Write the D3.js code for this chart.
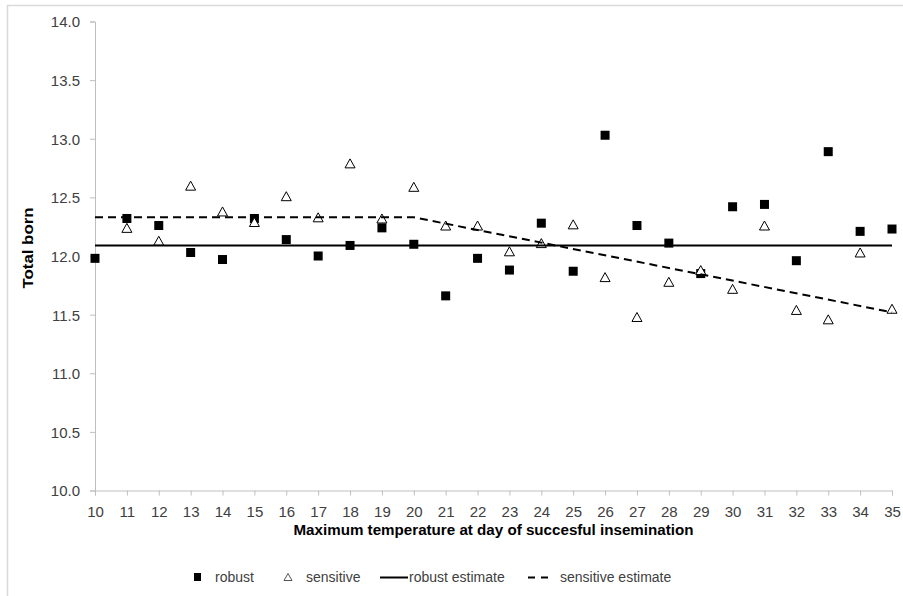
<!DOCTYPE html>
<html>
<head>
<meta charset="utf-8">
<script src="https://cdn.jsdelivr.net/npm/d3@7"></script>
<style>
  body { margin: 0; background: #fff; }
  svg { display: block; font-family: "Liberation Sans", Arial, sans-serif; }
</style>
</head>
<body>
<div id="chart"></div>
<script>
// Datos
const temps = [10, 11, 12, 13, 14, 15, 16, 17, 18, 19, 20, 21, 22, 23, 24, 25, 26, 27, 28, 29, 30, 31, 32, 33, 34, 35];
const robust = [11.98, 12.32, 12.26, 12.03, 11.97, 12.32, 12.14, 12.00, 12.09, 12.24, 12.10, 11.66, 11.98, 11.88, 12.28, 11.87, 13.03, 12.26, 12.11, 11.85, 12.42, 12.44, 11.96, 12.89, 12.21, 12.23];
const sensitive = [null, 12.24, 12.13, 12.60, 12.38, 12.29, 12.51, 12.33, 12.79, 12.32, 12.59, 12.26, 12.26, 12.04, 12.11, 12.27, 11.82, 11.48, 11.78, 11.88, 11.72, 12.26, 11.54, 11.46, 12.03, 11.55];
const robustEstX = [10, 35];
const robustEstY = [12.09, 12.09];
const sensEstX = [10, 20, 35];
const sensEstY = [12.33, 12.33, 11.52];
const yTicks = [10.0, 10.5, 11.0, 11.5, 12.0, 12.5, 13.0, 13.5, 14.0];
const legendLabels = ['robust', 'sensitive', 'robust estimate', 'sensitive estimate'];

const W = 903, H = 596;
const AXIS_GREY = '#bfbfbf', TEXT_GREY = '#404040';

let svg = d3.select('#chart').append('svg')
    .attr('width', W)
    .attr('height', H);

svg.append('rect').attr('width', W).attr('height', H).attr('fill', '#fff');

// marco exterior
svg.append('rect')
    .attr('x', 7.5).attr('y', 5.5)
    .attr('width', W + 10).attr('height', H + 10)
    .attr('fill', 'none')
    .attr('stroke', '#d9d9d9')
    .attr('stroke-width', 1.5);

let x = d3.scaleLinear().domain([10, 35]).range([95, 892]);
let y = d3.scaleLinear().domain([10, 14]).range([490.5, 21.5]);

// eje Y
let yAxis = svg.append('g')
    .attr('transform', 'translate(' + x(10) + ',0)')
    .call(d3.axisLeft(y).tickValues(yTicks).tickSize(5).tickPadding(10).tickFormat(d3.format('.1f')));
yAxis.select('.domain').attr('stroke', AXIS_GREY);
yAxis.selectAll('.tick line').attr('stroke', AXIS_GREY);
yAxis.selectAll('.tick text').attr('fill', TEXT_GREY).style('font-size', '15px')
    .attr('dy', '0.36em');

// eje X
let xAxis = svg.append('g')
    .attr('transform', 'translate(0,' + y(10) + ')')
    .call(d3.axisBottom(x).tickValues(temps).tickSize(5).tickPadding(11).tickFormat(d3.format('d')));
xAxis.select('.domain').attr('stroke', AXIS_GREY);
xAxis.selectAll('.tick line').attr('stroke', AXIS_GREY);
xAxis.selectAll('.tick text').attr('fill', TEXT_GREY).style('font-size', '15px');

// títulos de ejes
svg.append('text')
    .attr('x', (x(10) + x(35)) / 2)
    .attr('y', 535)
    .attr('text-anchor', 'middle')
    .attr('font-weight', 'bold')
    .attr('fill', '#000')
    .style('font-size', '14px')
    .attr('textLength', 400)
    .attr('lengthAdjust', 'spacingAndGlyphs')
    .text('Maximum temperature at day of succesful insemination');

svg.append('text')
    .attr('transform', 'translate(33,248) rotate(-90)')
    .attr('text-anchor', 'middle')
    .attr('font-weight', 'bold')
    .attr('fill', '#000')
    .style('font-size', '15px')
    .attr('textLength', 81)
    .attr('lengthAdjust', 'spacingAndGlyphs')
    .text('Total born');

// series
const triPath = function(w, h) {
    return 'M0,' + (-h / 2) + 'L' + (w / 2) + ',' + (h / 2) + 'L' + (-w / 2) + ',' + (h / 2) + 'Z';
};

let robustData = temps.map(function(t, i) { return { t: t, v: robust[i] }; });
let sensData = temps.map(function(t, i) { return { t: t, v: sensitive[i] }; })
    .filter(function(d) { return d.v !== null; });

svg.append('g').selectAll('rect')
    .data(robustData)
    .enter()
    .append('rect')
    .attr('x', function(d) { return x(d.t) - 4.5; })
    .attr('y', function(d) { return y(d.v) - 4.5; })
    .attr('width', 9)
    .attr('height', 9)
    .attr('fill', '#000');

svg.append('g').selectAll('path')
    .data(sensData)
    .enter()
    .append('path')
    .attr('transform', function(d) { return 'translate(' + x(d.t) + ',' + y(d.v) + ')'; })
    .attr('d', triPath(10, 9))
    .attr('fill', '#fff')
    .attr('stroke', '#000')
    .attr('stroke-width', 1);

let line = d3.line()
    .x(function(d) { return x(d[0]); })
    .y(function(d) { return y(d[1]); });

svg.append('path')
    .datum(d3.zip(robustEstX, robustEstY))
    .attr('d', line)
    .attr('fill', 'none')
    .attr('stroke', '#000')
    .attr('stroke-width', 2);

svg.append('path')
    .datum(d3.zip(sensEstX, sensEstY))
    .attr('d', line)
    .attr('fill', 'none')
    .attr('stroke', '#000')
    .attr('stroke-width', 2)
    .attr('stroke-dasharray', '8,5');

// leyenda
let legend = svg.append('g').style('font-size', '14px').attr('fill', TEXT_GREY);
const LY = 577;

legend.append('rect').attr('x', 194).attr('y', LY - 4).attr('width', 7).attr('height', 8).attr('fill', '#000');
legend.append('text').attr('x', 215).attr('y', LY + 5).text(legendLabels[0]);

legend.append('path').attr('transform', 'translate(288,' + LY + ')').attr('d', triPath(8, 7))
    .attr('fill', '#fff').attr('stroke', '#555').attr('stroke-width', 1);
legend.append('text').attr('x', 306).attr('y', LY + 5).text(legendLabels[1]);

legend.append('line').attr('x1', 380).attr('x2', 408).attr('y1', LY + 0.5).attr('y2', LY + 0.5)
    .attr('stroke', '#000').attr('stroke-width', 2);
legend.append('text').attr('x', 409).attr('y', LY + 5).text(legendLabels[2]);

legend.append('line').attr('x1', 528).attr('x2', 550).attr('y1', LY + 0.5).attr('y2', LY + 0.5)
    .attr('stroke', '#000').attr('stroke-width', 2).attr('stroke-dasharray', '7,6');
legend.append('text').attr('x', 560).attr('y', LY + 5).text(legendLabels[3]);
</script>
</body>
</html>
